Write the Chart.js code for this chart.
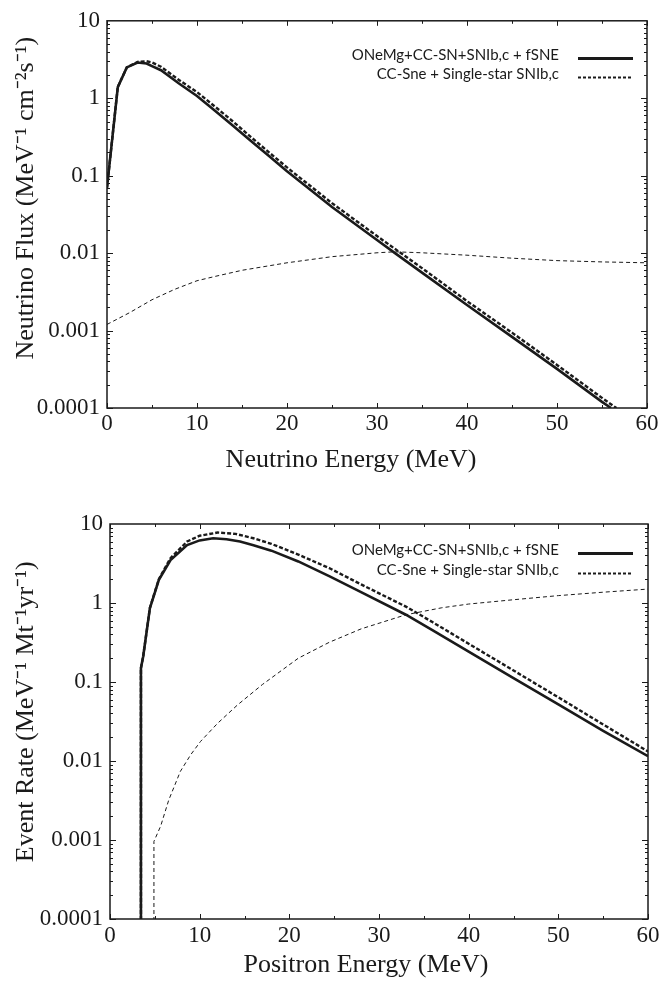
<!DOCTYPE html>
<html lang="en">
<head>
<meta charset="UTF-8">
<title>Neutrino flux and event rate</title>
<script src="https://cdn.jsdelivr.net/npm/chart.js"></script>
<style>
  body { margin: 0; background: #fff; }
  .box { position: absolute; left: 0; width: 663px; }
</style>
</head>
<body>
<div class="box" style="top:0;height:490px"><canvas id="fluxChart"></canvas></div>
<div class="box" style="top:490px;height:495px"><canvas id="rateChart"></canvas></div>
<script>
// --- top panel: neutrino flux ---
const fluxEnergyA = [0, 1.2, 2.2, 3.4, 4.4, 5, 6, 8, 10, 12, 14, 16, 18, 20, 22, 25, 30, 32, 35, 40, 45, 50, 55, 56];
const fluxONeMg   = [0.07, 1.39, 2.5, 2.89, 2.81, 2.6, 2.3, 1.55, 1.07, 0.69, 0.44, 0.28, 0.179, 0.114, 0.0745, 0.0394, 0.0148, 0.0100, 0.0056, 0.00214, 0.00083, 0.00032, 0.00012, 0.0001];
const fluxEnergyB = [0, 1.2, 2.2, 3.4, 4.4, 5, 6, 8, 10, 12, 14, 16, 18, 20, 22, 25, 30, 35, 40, 45, 50, 55, 56.6];
const fluxCCSNe   = [0.07, 1.4, 2.5, 2.95, 3.0, 2.9, 2.55, 1.72, 1.2, 0.78, 0.5, 0.315, 0.2, 0.128, 0.0835, 0.0442, 0.0166, 0.0064, 0.0024, 0.00094, 0.00036, 0.000135, 0.0001];
const fluxEnergyC = [0, 2.5, 5, 7.5, 10, 12, 15, 20, 25, 30, 32, 35, 40, 45, 50, 55, 60];
const fluxThin    = [0.0012, 0.0017, 0.0025, 0.0034, 0.0044, 0.005, 0.006, 0.0075, 0.009, 0.0101, 0.0104, 0.0101, 0.0094, 0.0086, 0.008, 0.0077, 0.0075];

// --- bottom panel: event rate ---
const rateEnergyA = [3.45, 3.45, 3.7, 4.45, 5.45, 6.75, 8.6, 10, 11.5, 13, 14.5, 16, 18, 21, 24.5, 28, 33, 36, 40, 45, 50, 55, 60];
const rateONeMg   = [0.00001, 0.15, 0.21, 0.86, 1.97, 3.5, 5.4, 6.2, 6.6, 6.4, 6.0, 5.4, 4.6, 3.36, 2.17, 1.37, 0.71, 0.45, 0.242, 0.112, 0.052, 0.024, 0.0115];
const rateEnergyB = [3.45, 3.45, 3.7, 4.45, 5.45, 6.75, 8.6, 10, 12, 14, 16, 18, 21, 24.5, 28, 33, 36, 40, 45, 50, 55, 60];
const rateCCSNe   = [0.00001, 0.15, 0.21, 0.87, 2.0, 3.7, 6.0, 7.1, 7.8, 7.5, 6.6, 5.6, 4.1, 2.75, 1.72, 0.9, 0.57, 0.305, 0.14, 0.064, 0.029, 0.0132];
const rateEnergyC = [4.9, 4.9, 5.65, 6.55, 7.85, 9, 10.1, 12, 14.2, 17, 21, 24.5, 28, 33, 37, 40, 45, 50, 55, 60];
const rateThin    = [0.00001, 0.00096, 0.0015, 0.0032, 0.0074, 0.012, 0.0177, 0.03, 0.051, 0.093, 0.2, 0.32, 0.47, 0.71, 0.87, 0.97, 1.1, 1.24, 1.37, 1.5];

const yTicks = [0.0001, 0.001, 0.01, 0.1, 1, 10];
const labelA = 'ONeMg+CC-SN+SNIb,c + fSNE';
const labelB = 'CC-Sne + Single-star SNIb,c';

const serif = "'Liberation Serif', 'Times New Roman', serif";
const ink = '#1a1a1a';

function zip(xs, ys) {
  return xs.map((v, i) => ({x: v, y: ys[i]}));
}

function series(xs, ys, label, kind) {
  const s = {label: label, data: zip(xs, ys), borderColor: ink, pointRadius: 0, tension: 0, fill: false};
  if (kind === 'solid') { s.borderWidth = 2.6; }
  if (kind === 'dash') { s.borderWidth = 2.4; s.borderDash = [4, 2]; }
  if (kind === 'thin') { s.borderWidth = 1; s.borderDash = [4, 3]; }
  return s;
}

// frame, inward ticks and legend
const framePlugin = {
  id: 'frame',
  afterDatasetsDraw(chart, args, opts) {
    const {ctx, chartArea: a, scales} = chart;
    const x = scales.x, y = scales.y;
    ctx.save();
    ctx.strokeStyle = ink;
    ctx.lineWidth = 1.5;
    ctx.strokeRect(a.left, a.top, a.right - a.left, a.bottom - a.top);

    ctx.lineWidth = 1;
    ctx.beginPath();
    for (let v = 0; v <= 60; v += 5) {
      const px = Math.round(x.getPixelForValue(v)) + 0.5;
      const len = v % 10 === 0 ? 5 : 3;
      ctx.moveTo(px, a.bottom); ctx.lineTo(px, a.bottom - len);
      ctx.moveTo(px, a.top); ctx.lineTo(px, a.top + len);
    }
    for (let d = -4; d <= 0; d++) {
      for (let m = 1; m <= 9; m++) {
        const py = Math.round(y.getPixelForValue(m * Math.pow(10, d))) + 0.5;
        const len = m === 1 ? 6 : 3;
        ctx.moveTo(a.left, py); ctx.lineTo(a.left + len, py);
        ctx.moveTo(a.right, py); ctx.lineTo(a.right - len, py);
      }
    }
    ctx.stroke();

    // legend, text right aligned with the line sample to its right
    ctx.font = '15px Lato, sans-serif';
    ctx.fillStyle = ink;
    ctx.textAlign = 'right';
    ctx.textBaseline = 'alphabetic';
    let row = 0;
    chart.data.datasets.forEach(ds => {
      if (!ds.label) return;
      const base = opts.rows[row];
      ctx.fillText(ds.label, opts.textRight, base);
      ctx.beginPath();
      ctx.lineWidth = ds.borderDash ? 2 : 3;
      ctx.setLineDash(ds.borderDash ? [3, 2] : []);
      ctx.moveTo(opts.lineFrom, base - 1.5);
      ctx.lineTo(opts.lineTo, base - 1.5);
      ctx.stroke();
      ctx.setLineDash([]);
      row++;
    });
    ctx.restore();
  }
};

function makeChart(id, datasets, cfg) {
  return new Chart(document.getElementById(id), {
    type: 'line',
    data: {datasets: datasets},
    options: {
      responsive: true,
      maintainAspectRatio: false,
      animation: false,
      layout: {padding: {top: cfg.top, right: cfg.right, left: 0, bottom: 0}, autoPadding: false},
      plugins: {
        legend: {display: false},
        tooltip: {enabled: false},
        frame: {rows: cfg.rows, textRight: 559, lineFrom: 578, lineTo: 633}
      },
      scales: {
        x: {
          type: 'linear', min: 0, max: 60,
          grid: {display: false, drawTicks: false},
          border: {display: false},
          ticks: {stepSize: 10, padding: cfg.xPad, color: ink, font: {family: serif, size: 23}},
          title: {display: true, text: cfg.xTitle, color: ink, font: {family: serif, size: 26},
                  padding: {top: 0, bottom: cfg.xTitlePad}},
          afterFit: s => { s.height = cfg.xHeight; }
        },
        y: {
          type: 'logarithmic', min: 0.0001, max: 10,
          grid: {display: false, drawTicks: false},
          border: {display: false},
          afterBuildTicks: s => { s.ticks = yTicks.map(v => ({value: v})); },
          ticks: {padding: 7, color: ink, font: {family: serif, size: 23}, callback: v => String(v)},
          title: {display: true, text: cfg.yTitle, color: ink, font: {family: serif, size: 26},
                  padding: {top: 11, bottom: 0}},
          afterFit: s => { s.width = cfg.yWidth; }
        }
      }
    },
    plugins: [framePlugin]
  });
}

makeChart('fluxChart', [
  series(fluxEnergyA, fluxONeMg, labelA, 'solid'),
  series(fluxEnergyB, fluxCCSNe, labelB, 'dash'),
  series(fluxEnergyC, fluxThin, '', 'thin')
], {
  top: 13, right: 16, yWidth: 107, xHeight: 82, xPad: 2, xTitlePad: 14,
  xTitle: 'Neutrino Energy (MeV)        ',
  yTitle: '     Neutrino Flux (MeV\u207B\u00B9 cm\u207B\u00B2s\u207B\u00B9)',
  rows: [60, 79]
});

makeChart('rateChart', [
  series(rateEnergyA, rateONeMg, labelA, 'solid'),
  series(rateEnergyB, rateCCSNe, labelB, 'dash'),
  series(rateEnergyC, rateThin, '', 'thin')
], {
  top: 34, right: 15, yWidth: 110, xHeight: 66, xPad: 3, xTitlePad: 4,
  xTitle: 'Positron Energy (MeV)    ',
  yTitle: '   Event Rate (MeV\u207B\u00B9 Mt\u207B\u00B9yr\u207B\u00B9)',
  rows: [65, 85]
});
</script>
</body>
</html>
